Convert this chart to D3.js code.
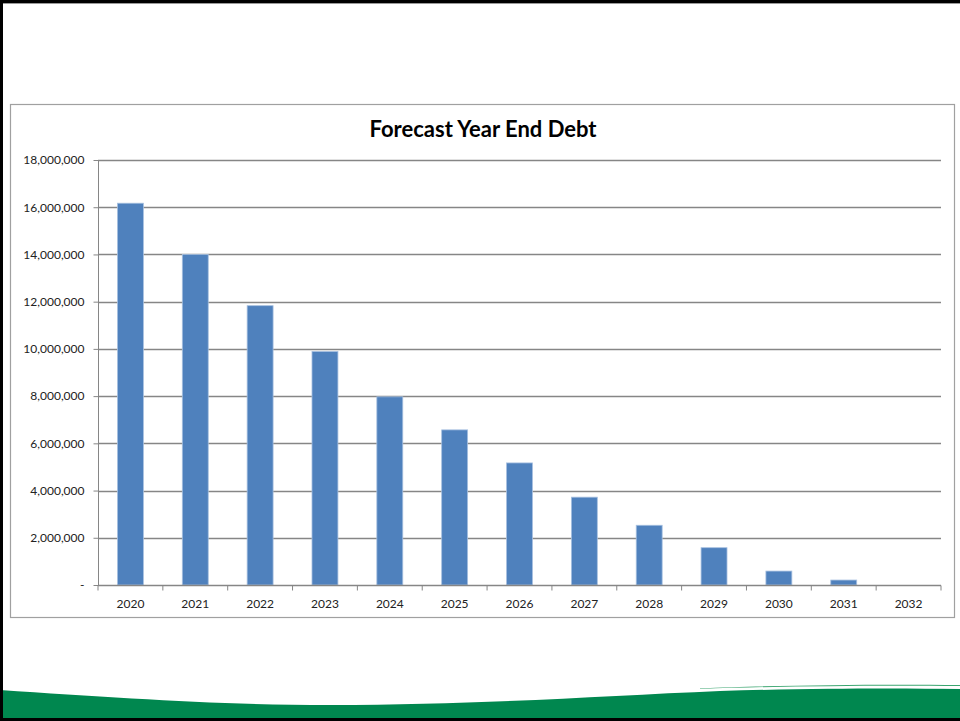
<!DOCTYPE html>
<html>
<head>
<meta charset="utf-8">
<script src="https://cdn.jsdelivr.net/npm/d3@7"></script>
<style>
  html, body { margin: 0; padding: 0; background: #fff; }
  svg { display: block; }
  text { font-family: Lato, "Liberation Sans", sans-serif; fill: #222; }
</style>
</head>
<body>
<svg id="slide" width="960" height="721"></svg>
<script>
// Forecast year-end debt balances
const years = ["2020","2021","2022","2023","2024","2025","2026","2027","2028","2029","2030","2031","2032"];
const debt = [16170000, 14000000, 11830000, 9890000, 7970000, 6570000, 5170000, 3720000, 2530000, 1580000, 590000, 210000, 0];
const yTicks = [0, 2000000, 4000000, 6000000, 8000000, 10000000, 12000000, 14000000, 16000000, 18000000];
const title = "Forecast Year End Debt";

const svg = d3.select("#slide");
const W = 960, H = 721;

// Slide background decoration: green wave at the bottom
const green = "#00874f";
svg.append("path")
  .attr("d", "M0,690 C120,698 220,705 330,705 C480,705 600,696 720,691 C820,688 900,688 960,689 L960,721 L0,721 Z")
  .attr("fill", green);
// thin highlight streak on the right side of the wave
svg.append("path")
  .attr("d", "M690,690 C780,686 880,685 960,686 L960,688.5 C880,687.5 780,688 690,690.5 Z")
  .attr("fill", "#ffffff");
svg.append("path")
  .attr("d", "M700,688.5 C780,685 880,684 960,685 L960,686 C880,685 780,686 700,689 Z")
  .attr("fill", "#3aa56f");

// Slide frame
svg.append("rect").attr("x", 1.5).attr("y", 1.5).attr("width", W + 2).attr("height", H - 3)
  .attr("fill", "none").attr("stroke", "#000").attr("stroke-width", 3);
svg.append("line").attr("x1", 3).attr("x2", W).attr("y1", 3.5).attr("y2", 3.5)
  .attr("stroke", "#9a9a9a").attr("stroke-width", 1);

// Chart container box
svg.append("rect").attr("x", 10.5).attr("y", 104.5).attr("width", 944).attr("height", 513)
  .attr("fill", "#fff").attr("stroke", "#a0a0a0").attr("stroke-width", 1.2);

// Plot area
const plot = { left: 98, right: 941, top: 160, bottom: 585 };

const x = d3.scaleBand().domain(years).range([plot.left, plot.right]).paddingInner(0.6).paddingOuter(0.3);
const y = d3.scaleLinear().domain([0, 18000000]).range([plot.bottom, plot.top]);

// Title
svg.append("text")
  .attr("x", 483).attr("y", 137)
  .attr("text-anchor", "middle")
  .style("font-size", "22px").style("font-weight", "bold")
  .style("fill", "#000")
  .text(title);

// Horizontal gridlines
svg.append("g")
  .selectAll("line")
  .data(yTicks.filter(d => d > 0))
  .join("line")
  .attr("x1", plot.left).attr("x2", plot.right)
  .attr("y1", d => Math.round(y(d)) + 0.5).attr("y2", d => Math.round(y(d)) + 0.5)
  .attr("stroke", "#868686").attr("stroke-width", 1.3);

// Y axis
const fmt = d => d === 0 ? "-" : d3.format(",")(d);
const yAxis = svg.append("g")
  .attr("transform", `translate(${plot.left + 0.5},0)`)
  .call(d3.axisLeft(y).tickValues(yTicks).tickFormat(fmt).tickSize(5).tickPadding(9));
yAxis.select(".domain").attr("stroke", "#868686").attr("d", `M0,${plot.top}V${plot.bottom}`);
yAxis.selectAll(".tick line").attr("stroke", "#868686");
yAxis.selectAll(".tick text").style("font-size", "12px").style("fill", "#222")
  .attr("font-family", null);

// Bars
svg.append("g")
  .selectAll("rect")
  .data(years.map((yr, i) => ({ yr, v: debt[i] })))
  .join("rect")
  .attr("x", d => x(d.yr))
  .attr("y", d => y(d.v))
  .attr("width", x.bandwidth())
  .attr("height", d => y(0) - y(d.v))
  .attr("fill", "#4f81bd")
  .attr("stroke", d => d.v > 0 ? "#a7c0e0" : "none")
  .attr("stroke-width", 0.8);

// X axis
const step = x.step();
const xAxis = svg.append("g").attr("transform", `translate(0,${Math.round(y(0)) + 0.5})`);
xAxis.append("line").attr("x1", plot.left).attr("x2", plot.right)
  .attr("stroke", "#868686").attr("stroke-width", 1.3);
xAxis.selectAll("line.tk")
  .data(d3.range(years.length + 1))
  .join("line").attr("class", "tk")
  .attr("x1", i => plot.left + i * step).attr("x2", i => plot.left + i * step)
  .attr("y1", 0).attr("y2", 5)
  .attr("stroke", "#868686");
xAxis.selectAll("text")
  .data(years)
  .join("text")
  .attr("x", d => x(d) + x.bandwidth() / 2)
  .attr("y", 22)
  .attr("text-anchor", "middle")
  .style("font-size", "12px")
  .text(d => d);
</script>
</body>
</html>
